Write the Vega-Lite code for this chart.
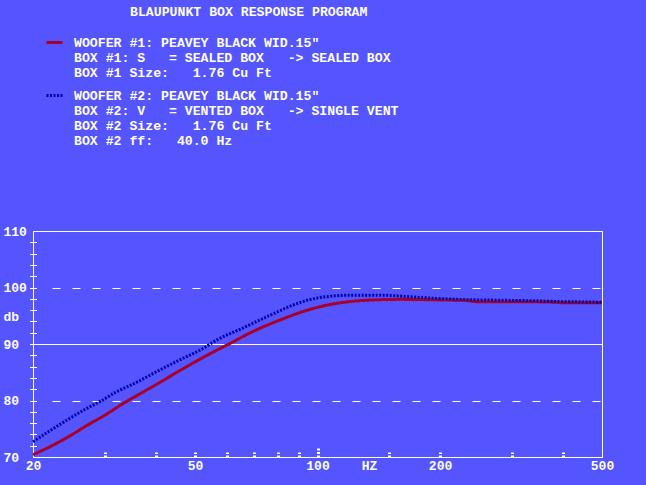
{
  "$schema": "https://vega.github.io/schema/vega-lite/v6.json",
  "width": 569,
  "height": 226,
  "autosize": {"type": "none"},
  "padding": {"left": 33, "top": 231, "right": 44, "bottom": 28},
  "background": "#5555ff",
  "title": {"text": "BLAUPUNKT BOX RESPONSE PROGRAM", "anchor": "start", "frame": "group", "dx": 97, "offset": 1, "baseline": "bottom", "font": "Liberation Mono", "fontSize": 13.2, "fontWeight": "bold", "color": "white"},
  "config": {
    "view": {"stroke": "white", "strokeWidth": 1},
    "axis": {"labelFont": "Liberation Mono", "labelFontSize": 13, "labelFontWeight": "bold", "labelColor": "white", "titleFont": "Liberation Mono", "titleFontSize": 13, "titleFontWeight": "bold", "titleColor": "white"}
  },
  "datasets": {
    "boxes": [
      {"box": 1, "desc": "WOOFER #1: PEAVEY BLACK WID.15\"|BOX #1: S\u00a0\u00a0\u00a0= SEALED BOX\u00a0\u00a0\u00a0-> SEALED BOX|BOX #1 Size:\u00a0\u00a0\u00a01.76 Cu Ft"},
      {"box": 2, "desc": "WOOFER #2: PEAVEY BLACK WID.15\"|BOX #2: V\u00a0\u00a0\u00a0= VENTED BOX\u00a0\u00a0\u00a0-> SINGLE VENT|BOX #2 Size:\u00a0\u00a0\u00a01.76 Cu Ft|BOX #2 ff:\u00a0\u00a0\u00a040.0 Hz"}
    ],
    "curves": [
      {"box": 1, "hz": 20, "db": 70.4},
      {"box": 1, "hz": 22.4, "db": 72.1},
      {"box": 1, "hz": 24.6, "db": 73.7},
      {"box": 1, "hz": 27, "db": 75.5},
      {"box": 1, "hz": 29.7, "db": 77.2},
      {"box": 1, "hz": 33.9, "db": 79.8},
      {"box": 1, "hz": 37.5, "db": 81.6},
      {"box": 1, "hz": 41, "db": 83.2},
      {"box": 1, "hz": 45.9, "db": 85.3},
      {"box": 1, "hz": 51.4, "db": 87.3},
      {"box": 1, "hz": 57.6, "db": 89.2},
      {"box": 1, "hz": 61, "db": 90.1},
      {"box": 1, "hz": 68, "db": 91.9},
      {"box": 1, "hz": 75, "db": 93.3},
      {"box": 1, "hz": 80.9, "db": 94.25},
      {"box": 1, "hz": 90, "db": 95.5},
      {"box": 1, "hz": 101.4, "db": 96.6},
      {"box": 1, "hz": 119.8, "db": 97.5},
      {"box": 1, "hz": 137, "db": 97.8},
      {"box": 1, "hz": 159, "db": 97.9},
      {"box": 1, "hz": 200, "db": 97.8},
      {"box": 1, "hz": 232, "db": 97.7},
      {"box": 1, "hz": 245, "db": 97.5},
      {"box": 1, "hz": 300, "db": 97.5},
      {"box": 1, "hz": 380, "db": 97.4},
      {"box": 1, "hz": 400, "db": 97.3},
      {"box": 1, "hz": 500, "db": 97.3},
      {"box": 2, "hz": 20, "db": 72.7},
      {"box": 2, "hz": 22.4, "db": 75.0},
      {"box": 2, "hz": 24.2, "db": 76.5},
      {"box": 2, "hz": 27.1, "db": 78.6},
      {"box": 2, "hz": 29.2, "db": 79.8},
      {"box": 2, "hz": 32, "db": 81.5},
      {"box": 2, "hz": 35.9, "db": 83.2},
      {"box": 2, "hz": 40, "db": 85.0},
      {"box": 2, "hz": 45.9, "db": 87.2},
      {"box": 2, "hz": 51.4, "db": 88.9},
      {"box": 2, "hz": 57.2, "db": 90.9},
      {"box": 2, "hz": 64.5, "db": 92.6},
      {"box": 2, "hz": 75, "db": 94.8},
      {"box": 2, "hz": 87.2, "db": 96.9},
      {"box": 2, "hz": 95, "db": 97.8},
      {"box": 2, "hz": 103.3, "db": 98.3},
      {"box": 2, "hz": 122.4, "db": 98.65},
      {"box": 2, "hz": 142.4, "db": 98.65},
      {"box": 2, "hz": 165.6, "db": 98.4},
      {"box": 2, "hz": 192.6, "db": 98.1},
      {"box": 2, "hz": 232.6, "db": 97.85},
      {"box": 2, "hz": 280, "db": 97.75},
      {"box": 2, "hz": 339, "db": 97.65},
      {"box": 2, "hz": 400, "db": 97.5},
      {"box": 2, "hz": 500, "db": 97.4}
    ]
  },
  "data": {"name": "curves"},
  "transform": [
    {"lookup": "box", "from": {"data": {"name": "boxes"}, "key": "box", "fields": ["desc"]}}
  ],
  "layer": [
    {
      "mark": {"type": "line", "interpolate": "monotone", "strokeWidth": 3},
      "encoding": {
        "x": {
          "field": "hz", "type": "quantitative",
          "scale": {"type": "log", "domain": [20, 500], "nice": false},
          "axis": {"orient": "bottom", "values": [20, 50, 100, 200, 500], "ticks": false, "tickSize": 0, "domain": false, "grid": false, "labelPadding": 12, "labelBaseline": "alphabetic", "labelFlush": false, "labelOverlap": false, "format": "d", "title": "HZ", "titleX": 336, "titleY": 12, "titleBaseline": "alphabetic", "titleAlign": "center", "titleAnchor": null, "titlePadding": 0}
        },
        "y": {
          "field": "db", "type": "quantitative",
          "scale": {"domain": [70, 110], "nice": false, "zero": false},
          "axis": {"orient": "left", "values": [70, 80, 90, 100, 110], "ticks": false, "tickSize": 0, "domain": false, "labelAlign": "left", "labelPadding": 30, "labelBaseline": "middle", "labelFlush": false, "labelOverlap": false, "grid": true, "gridColor": "white", "gridOpacity": 1, "gridWidth": 1,
            "gridDash": {"condition": {"test": "datum.value == 80 || datum.value == 100", "value": [0, 19, 8, 12, 8, 12, 8, 12, 8, 12, 8, 12, 8, 12, 8, 12, 8, 12, 8, 12, 8, 12, 8, 12, 8, 12, 8, 12, 8, 12, 8, 12, 8, 12, 8, 12, 8, 12, 8, 12, 8, 12, 8, 12, 8, 12, 8, 12, 8, 12, 8, 12, 8, 12, 8, 12, 8, 12]}, "value": []},
            "title": "db", "titleAngle": 0, "titleX": -30, "titleY": 89, "titleAlign": "left", "titleBaseline": "alphabetic"}
        },
        "color": {
          "field": "desc", "type": "nominal",
          "scale": {"range": ["#a80026", "#0000aa"]},
          "legend": {"orient": "none", "legendX": 12, "legendY": -198, "title": null, "labelExpr": "split(datum.label, '|')", "symbolType": "stroke", "symbolSize": 256, "symbolStrokeWidth": 3, "labelFont": "Liberation Mono", "labelFontSize": 13.2, "labelFontWeight": "bold", "labelColor": "white", "labelLimit": 600, "labelOffset": 10, "labelBaseline": "middle", "rowPadding": 6, "padding": 0}
        },
        "strokeDash": {
          "field": "desc", "type": "nominal",
          "scale": {"range": [[1, 0], [2, 1.5]]},
          "legend": {"orient": "none", "legendX": 12, "legendY": -198, "title": null, "labelExpr": "split(datum.label, '|')", "symbolType": "stroke", "symbolSize": 256, "symbolStrokeWidth": 3, "labelFont": "Liberation Mono", "labelFontSize": 13.2, "labelFontWeight": "bold", "labelColor": "white", "labelLimit": 600, "labelOffset": 10, "labelBaseline": "middle", "rowPadding": 6, "padding": 0}
        }
      }
    },
    {
      "mark": {"type": "point", "opacity": 0},
      "encoding": {
        "x": {
          "field": "hz", "type": "quantitative",
          "axis": {"orient": "bottom", "values": [30, 40, 50, 60, 70, 80, 90, 100, 150, 200, 300, 400], "labels": false, "domain": false, "grid": false, "ticks": true, "tickColor": "white", "tickWidth": 3, "tickDash": [2, 1.5], "tickSize": {"condition": {"test": "datum.value == 100", "value": -10}, "value": -5}, "title": null}
        },
        "y": {
          "field": "db", "type": "quantitative",
          "axis": {"orient": "left", "values": [72, 74, 76, 78, 80, 82, 84, 86, 88, 90, 92, 94, 96, 98, 100, 102, 104, 106, 108], "labels": false, "domain": false, "grid": false, "ticks": true, "tickColor": "white", "tickWidth": 1, "tickSize": 7, "offset": -3.5, "title": null}
        }
      }
    }
  ],
  "resolve": {"axis": {"x": "independent", "y": "independent"}}
}
